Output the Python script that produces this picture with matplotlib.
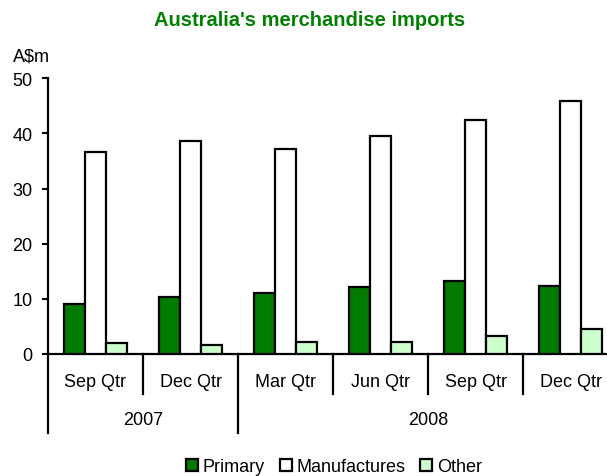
import numpy as np
import matplotlib.pyplot as plt
from matplotlib.patches import Patch
from matplotlib.transforms import blended_transform_factory

plt.rcParams['font.family'] = ['Liberation Sans', 'DejaVu Sans']

quarters = ["Sep Qtr", "Dec Qtr", "Mar Qtr", "Jun Qtr", "Sep Qtr", "Dec Qtr"]
years = ["2007", "2008"]
year_counts = [2, 4]
primary = [9.1, 10.4, 11.1, 12.1, 13.3, 12.4]
manufactures = [36.6, 38.6, 37.1, 39.6, 42.5, 45.9]
other = [2.0, 1.6, 2.1, 2.2, 3.3, 4.5]

c_primary = '#007A00'
c_manuf = '#FFFFFF'
c_other = '#CCFFCC'

fig = plt.figure(figsize=(6.07, 4.77), dpi=100)
ax = fig.add_axes([48/607, 122/477, 570/607, 275.7/477])

x = np.arange(len(quarters))
w = 0.221
kw = dict(edgecolor='black', linewidth=1.6, zorder=3)
ax.bar(x - w, primary, w, color=c_primary, **kw)
ax.bar(x, manufactures, w, color=c_manuf, **kw)
ax.bar(x + w, other, w, color=c_other, **kw)

ax.set_xlim(-0.5, len(quarters) - 0.5)
ax.set_ylim(0, 50)
ax.set_yticks(range(0, 51, 10))
ax.tick_params(axis='y', direction='out', length=4.5, width=1.5, labelsize=13, pad=6.5)
ax.tick_params(axis='x', length=0, labelbottom=False)
for s in ['top', 'right']:
    ax.spines[s].set_visible(False)
for s in ['left', 'bottom']:
    ax.spines[s].set_linewidth(1.6)

# two-level category axis
tr = blended_transform_factory(ax.transData, ax.transAxes)
q_depth = -0.145
y_depth = -0.287
year_edges = np.cumsum([0] + year_counts) - 0.5
for b in np.arange(len(quarters) + 1) - 0.5:
    d = y_depth if b in year_edges else q_depth
    ax.plot([b, b], [0, d], color='black', lw=1.6, transform=tr, clip_on=False)
for xi, q in zip(x, quarters):
    ax.text(xi, -0.1005, q, transform=tr, ha='center', va='center', fontsize=13)
for i, yr in enumerate(years):
    ax.text((year_edges[i] + year_edges[i + 1]) / 2, -0.236, yr, transform=tr,
            ha='center', va='center', fontsize=13)

ax.text(-0.0614, 1.081, "A$m", transform=ax.transAxes, ha='left', va='center', fontsize=13)
fig.text(0.51, 1 - 20/477, "Australia's merchandise imports", ha='center', va='center',
         fontsize=14.5, fontweight='bold', color='#008000')

handles = [Patch(facecolor=c, edgecolor='black', linewidth=1.6) for c in (c_primary, c_manuf, c_other)]
fig.legend(handles, ["Primary", "Manufactures", "Other"], loc='center',
           bbox_to_anchor=(0.55, 9/477), ncol=3, frameon=False, fontsize=13,
           handlelength=0.65, handleheight=0.65, handletextpad=0.25, columnspacing=0.85)

fig.savefig('out.png', dpi=100)
